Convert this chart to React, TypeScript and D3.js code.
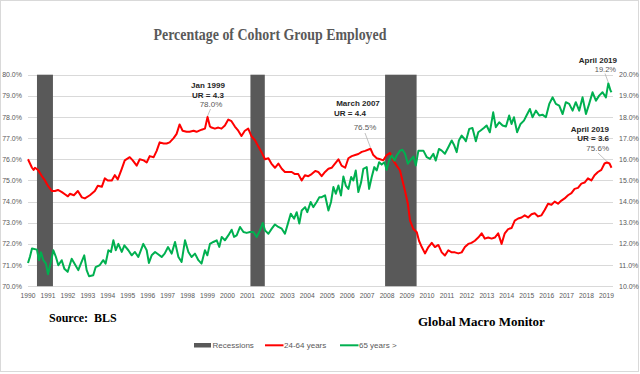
import React from "react";
import * as d3 from "d3";

const W = 640;
const H = 374;

// x axis: one label per year
const yearTicks = d3.range(1990, 2020);
const leftTicks = d3.range(70, 81, 1);
const rightTicks = d3.range(10, 21, 1);

// NBER recessions (decimal years)
const recessions: [number, number][] = [
  [1990.45, 1991.25],
  [2001.15, 2001.87],
  [2007.9, 2009.48],
];

// employment-population ratio, 24-64 years (left axis)
const employed2564: [number, number][] = [
  [1990.0, 76.0], [1990.1, 75.8], [1990.2, 75.6], [1990.28, 75.5], [1990.35, 75.6],
  [1990.5, 75.5], [1990.7, 75.2], [1990.85, 75.0], [1991.0, 74.75], [1991.2, 74.5],
  [1991.35, 74.5], [1991.5, 74.55], [1991.7, 74.45], [1991.85, 74.35], [1992.0, 74.25],
  [1992.1, 74.37], [1992.3, 74.3], [1992.5, 74.5], [1992.7, 74.2], [1992.85, 74.15],
  [1993.1, 74.3], [1993.35, 74.5], [1993.5, 74.75], [1993.7, 74.7], [1993.85, 75.1],
  [1994.0, 75.0], [1994.2, 75.0], [1994.35, 75.25], [1994.5, 75.05], [1994.7, 75.55],
  [1994.85, 75.95], [1995.1, 76.1], [1995.25, 75.95], [1995.45, 75.7], [1995.6, 76.0],
  [1995.8, 75.95], [1995.95, 75.85], [1996.1, 76.15], [1996.3, 76.1], [1996.45, 76.4],
  [1996.6, 76.8], [1996.8, 76.75], [1996.95, 76.75], [1997.1, 76.8], [1997.3, 77.0],
  [1997.45, 77.2], [1997.6, 77.65], [1997.75, 77.35], [1997.95, 77.3], [1998.1, 77.3],
  [1998.3, 77.35], [1998.45, 77.3], [1998.7, 77.4], [1998.87, 77.45], [1999.0, 78.0],
  [1999.12, 77.55], [1999.2, 77.5], [1999.37, 77.45], [1999.54, 77.5], [1999.7, 77.45],
  [1999.87, 77.6], [2000.04, 77.88], [2000.2, 77.8], [2000.37, 77.55], [2000.54, 77.35],
  [2000.7, 77.1], [2000.87, 77.35], [2001.04, 77.45], [2001.2, 77.1], [2001.38, 76.9],
  [2001.55, 76.6], [2001.7, 76.35], [2001.88, 76.0], [2002.05, 76.05], [2002.2, 75.8],
  [2002.38, 75.6], [2002.55, 75.8], [2002.72, 75.55], [2002.88, 75.4], [2003.05, 75.4],
  [2003.22, 75.4], [2003.38, 75.3], [2003.55, 75.3], [2003.72, 75.0], [2003.88, 75.25],
  [2004.05, 75.2], [2004.22, 75.3], [2004.4, 75.45], [2004.55, 75.4], [2004.72, 75.2],
  [2004.89, 75.4], [2005.06, 75.55], [2005.22, 75.6], [2005.39, 75.8], [2005.56, 76.0],
  [2005.72, 75.7], [2005.9, 75.6], [2006.06, 76.05], [2006.23, 76.15], [2006.4, 76.2],
  [2006.56, 76.25], [2006.73, 76.35], [2006.9, 76.4], [2007.17, 76.5], [2007.31, 76.2],
  [2007.48, 76.05], [2007.65, 76.0], [2007.81, 75.95], [2007.98, 76.2], [2008.15, 76.3],
  [2008.31, 75.95], [2008.48, 75.7], [2008.65, 75.47], [2008.77, 75.0], [2008.9, 74.5],
  [2009.04, 73.9], [2009.15, 73.1], [2009.32, 72.7], [2009.49, 72.55], [2009.6, 72.15],
  [2009.74, 71.85], [2009.9, 71.55], [2010.07, 71.85], [2010.24, 72.05], [2010.4, 71.85],
  [2010.57, 71.95], [2010.74, 71.6], [2010.9, 71.45], [2011.07, 71.7], [2011.24, 71.6],
  [2011.4, 71.6], [2011.57, 71.55], [2011.74, 71.6], [2011.9, 71.85], [2012.07, 72.0],
  [2012.23, 72.05], [2012.4, 72.15], [2012.57, 72.3], [2012.74, 72.5], [2012.9, 72.25],
  [2013.07, 72.3], [2013.24, 72.25], [2013.4, 72.3], [2013.57, 72.5], [2013.74, 72.0],
  [2013.9, 72.5], [2014.07, 72.7], [2014.24, 72.75], [2014.4, 73.1], [2014.57, 73.2],
  [2014.74, 73.25], [2014.9, 73.35], [2015.07, 73.25], [2015.24, 73.4], [2015.4, 73.45],
  [2015.57, 73.3], [2015.74, 73.35], [2015.9, 73.6], [2016.07, 73.9], [2016.24, 73.85],
  [2016.4, 74.0], [2016.57, 73.9], [2016.74, 74.05], [2016.9, 74.15], [2017.07, 74.3],
  [2017.24, 74.4], [2017.4, 74.6], [2017.57, 74.65], [2017.74, 74.85], [2017.9, 74.9],
  [2018.07, 75.1], [2018.24, 75.0], [2018.4, 75.25], [2018.57, 75.4], [2018.74, 75.5],
  [2018.9, 75.8], [2019.02, 75.85], [2019.15, 75.8], [2019.25, 75.6],
];

// employment-population ratio, 65 years and over (right axis)
const employed65: [number, number][] = [
  [1990.0, 11.1], [1990.1, 11.4], [1990.2, 11.78], [1990.45, 11.73], [1990.55, 11.23],
  [1990.65, 11.6], [1990.77, 11.23], [1990.9, 11.07], [1991.0, 10.57], [1991.15, 11.15],
  [1991.27, 11.7], [1991.4, 11.38], [1991.52, 10.99], [1991.69, 11.23], [1991.82, 10.83],
  [1991.99, 10.68], [1992.19, 11.3], [1992.35, 11.04], [1992.52, 10.76], [1992.65, 11.07],
  [1992.82, 11.46], [1992.94, 10.76], [1993.06, 10.47], [1993.27, 10.52], [1993.39, 10.9],
  [1993.6, 11.0], [1993.77, 11.23], [1993.89, 11.07], [1994.03, 11.7], [1994.16, 11.62],
  [1994.28, 12.17], [1994.4, 11.7], [1994.53, 12.0], [1994.7, 11.62], [1994.83, 11.93],
  [1995.03, 11.7], [1995.2, 11.46], [1995.36, 11.62], [1995.53, 11.38], [1995.78, 12.0],
  [1995.95, 11.7], [1996.06, 11.1], [1996.2, 11.46], [1996.37, 11.62], [1996.54, 11.5],
  [1996.7, 11.38], [1996.85, 11.54], [1997.02, 11.85], [1997.2, 11.54], [1997.37, 12.09],
  [1997.54, 11.38], [1997.7, 11.15], [1997.87, 12.17], [1998.04, 11.62], [1998.2, 11.38],
  [1998.37, 11.54], [1998.54, 11.23], [1998.7, 11.07], [1998.87, 11.7], [1998.99, 11.46],
  [1999.12, 12.0], [1999.29, 12.09], [1999.46, 12.17], [1999.59, 11.86], [1999.71, 12.33],
  [1999.87, 12.17], [2000.04, 12.4], [2000.21, 12.67], [2000.33, 12.33], [2000.46, 12.4],
  [2000.63, 12.8], [2000.8, 12.56], [2000.96, 12.52], [2001.13, 12.56], [2001.3, 12.56],
  [2001.46, 12.33], [2001.63, 12.64], [2001.77, 12.99], [2001.88, 12.64], [2002.05, 12.48],
  [2002.22, 12.72], [2002.38, 12.92], [2002.55, 12.8], [2002.72, 12.72], [2002.88, 12.48],
  [2003.05, 13.03], [2003.17, 13.43], [2003.34, 13.19], [2003.47, 13.5], [2003.6, 12.96],
  [2003.72, 13.58], [2003.89, 13.74], [2004.0, 13.5], [2004.17, 13.98], [2004.3, 13.74],
  [2004.47, 13.98], [2004.6, 14.2], [2004.72, 14.21], [2004.89, 14.3], [2005.06, 13.58],
  [2005.19, 13.98], [2005.31, 14.69], [2005.43, 14.37], [2005.56, 14.76], [2005.69, 14.29],
  [2005.81, 15.19], [2005.93, 14.76], [2006.06, 14.6], [2006.2, 15.16], [2006.31, 15.0],
  [2006.43, 15.47], [2006.56, 14.45], [2006.7, 14.92], [2006.81, 15.55], [2006.98, 15.63],
  [2007.1, 14.6], [2007.23, 15.16], [2007.36, 15.63], [2007.48, 15.47], [2007.6, 15.86],
  [2007.73, 15.75], [2007.87, 15.86], [2007.98, 15.5], [2008.1, 15.94], [2008.23, 16.18],
  [2008.37, 15.94], [2008.48, 16.18], [2008.65, 16.41], [2008.77, 16.45], [2008.9, 16.26],
  [2009.04, 15.79], [2009.15, 15.94], [2009.32, 16.13], [2009.44, 15.71], [2009.57, 16.41],
  [2009.7, 16.41], [2009.82, 16.41], [2009.99, 16.1], [2010.15, 16.02], [2010.32, 16.26],
  [2010.44, 15.94], [2010.6, 16.49], [2010.74, 16.41], [2010.9, 16.26], [2011.07, 16.57],
  [2011.24, 16.89], [2011.37, 16.65], [2011.49, 16.34], [2011.6, 16.89], [2011.74, 17.12],
  [2011.88, 16.96], [2011.95, 16.85], [2012.12, 17.44], [2012.28, 17.48], [2012.45, 16.85],
  [2012.57, 17.28], [2012.69, 17.36], [2012.85, 17.48], [2012.99, 17.6], [2013.15, 17.28],
  [2013.32, 18.22], [2013.45, 17.52], [2013.62, 17.75], [2013.79, 17.6], [2013.96, 17.55],
  [2014.12, 18.07], [2014.24, 17.67], [2014.36, 17.99], [2014.52, 17.28], [2014.69, 17.67],
  [2014.86, 17.83], [2014.99, 18.07], [2015.16, 18.38], [2015.29, 17.99], [2015.46, 18.3],
  [2015.63, 18.07], [2015.79, 18.11], [2015.96, 17.99], [2016.13, 18.62], [2016.3, 18.93],
  [2016.46, 18.62], [2016.63, 18.54], [2016.8, 18.14], [2016.96, 18.7], [2017.13, 18.62],
  [2017.3, 18.3], [2017.46, 18.7], [2017.63, 18.3], [2017.8, 18.93], [2017.97, 18.14],
  [2018.13, 18.62], [2018.3, 19.17], [2018.47, 18.77], [2018.63, 19.01], [2018.8, 19.17],
  [2018.97, 18.93], [2019.09, 19.59], [2019.2, 19.25], [2019.25, 19.17],
];

const RED = "#ff0000";
const GREEN = "#00b050";
const GREY = "#595959";
const GRID = "#d9d9d9";

export default function App() {
  const plotTop = 74.7;
  const plotBottom = 286.2;
  const x = d3.scaleLinear().domain([1990, 2019.3]).range([28, 612.5]);
  const yL = d3.scaleLinear().domain([70, 80]).range([plotBottom, plotTop]);
  const yR = d3.scaleLinear().domain([10, 20]).range([plotBottom, plotTop]);

  const lineL = d3
    .line<[number, number]>()
    .x((d) => x(d[0]))
    .y((d) => yL(d[1]));
  const lineR = d3
    .line<[number, number]>()
    .x((d) => x(d[0]))
    .y((d) => yR(d[1]));

  const sans = "'Liberation Sans', Arial, sans-serif";
  const serif = "'Liberation Serif', 'Times New Roman', serif";

  return (
    <svg
      width={W}
      height={H}
      style={{ position: "absolute", left: 0, top: 0, background: "white" }}
    >
      <rect x={0.5} y={0.5} width={638} height={371} fill="white" stroke={GRID} />

      <text
        x={270}
        y={40}
        textAnchor="middle"
        fontFamily={serif}
        fontWeight="bold"
        fontSize={17}
        fill={GREY}
        textLength={233}
        lengthAdjust="spacingAndGlyphs"
      >
        Percentage of Cohort Group Employed
      </text>

      {/* gridlines */}
      <g>
        {leftTicks.map((t) => (
          <line
            key={t}
            x1={28}
            x2={613}
            y1={Math.round(yL(t)) + 0.5}
            y2={Math.round(yL(t)) + 0.5}
            stroke={GRID}
            strokeWidth={1}
          />
        ))}
      </g>

      {/* recession bars */}
      <g>
        {recessions.map(([a, b]) => (
          <rect
            key={a}
            x={x(a)}
            y={plotTop}
            width={x(b) - x(a)}
            height={plotBottom - plotTop}
            fill={GREY}
          />
        ))}
      </g>

      <path d={lineL(employed2564) ?? ""} fill="none" stroke={RED} strokeWidth={2} strokeLinejoin="round" />
      <path d={lineR(employed65) ?? ""} fill="none" stroke={GREEN} strokeWidth={2} strokeLinejoin="round" />

      {/* left axis labels */}
      <g fontFamily={sans} fontSize={7} fill={GREY}>
        {leftTicks.map((t) => (
          <text key={t} x={22} y={yL(t) + 2.5} textAnchor="end">
            {d3.format(".1f")(t) + "%"}
          </text>
        ))}
      </g>
      {/* right axis labels */}
      <g fontFamily={sans} fontSize={7} fill={GREY}>
        {rightTicks.map((t) => (
          <text key={t} x={619} y={yR(t) + 2.5} textAnchor="start">
            {d3.format(".1f")(t) + "%"}
          </text>
        ))}
      </g>
      {/* year labels */}
      <g fontFamily={sans} fontSize={6.7} fill={GREY}>
        {yearTicks.map((t) => (
          <text key={t} x={x(t)} y={297.5} textAnchor="middle">
            {t}
          </text>
        ))}
      </g>

      {/* annotations */}
      <g fontFamily={sans} fontSize={8}>
        <text x={208} y={88} textAnchor="middle" fontWeight="bold" fill="#262626">Jan 1999</text>
        <text x={208} y={98} textAnchor="middle" fontWeight="bold" fill="#262626">UR = 4.3</text>
        <text x={211} y={107} textAnchor="middle" fill={GREY}>78.0%</text>
        <line x1={210.5} y1={109} x2={x(1999.0)} y2={yL(78.0) - 1} stroke="#a6a6a6" strokeWidth={0.7} />

        <text x={358} y={106.3} textAnchor="middle" fontWeight="bold" fill="#262626">March 2007</text>
        <text x={350} y={116.3} textAnchor="middle" fontWeight="bold" fill="#262626">UR = 4.4</text>
        <text x={365} y={130.3} textAnchor="middle" fill={GREY}>76.5%</text>
        <line x1={365} y1={133} x2={x(2007.17)} y2={yL(76.5) - 1} stroke="#a6a6a6" strokeWidth={0.7} />

        <text x={617} y={63} textAnchor="end" fontWeight="bold" fill="#262626">April 2019</text>
        <text x={616} y={71.8} textAnchor="end" fontSize={7.5} fill={GREY}>19.2%</text>
        <line x1={605} y1={73.5} x2={x(2019.09)} y2={yR(19.59) - 1} stroke="#a6a6a6" strokeWidth={0.7} />

        <text x={609} y={132} textAnchor="end" fontWeight="bold" fill="#262626">April 2019</text>
        <text x={609} y={141.3} textAnchor="end" fontWeight="bold" fill="#262626">UR = 3.6</text>
        <text x={609} y={150.7} textAnchor="end" fill={GREY}>75.6%</text>
        <line x1={598} y1={153} x2={x(2019.02)} y2={yL(75.85) - 1} stroke="#a6a6a6" strokeWidth={0.7} />
      </g>

      {/* sources */}
      <text x={49} y={321.7} fontFamily={serif} fontWeight="bold" fontSize={12} fill="black" xmlSpace="preserve">
        Source:  BLS
      </text>
      <text x={418} y={326} fontFamily={serif} fontWeight="bold" fontSize={13} fill="black">
        Global Macro Monitor
      </text>

      {/* legend */}
      <g fontFamily={sans} fontSize={8} fill={GREY}>
        <rect x={194} y={343} width={17} height={4.5} fill={GREY} />
        <text x={212.5} y={348}>Recessions</text>
        <line x1={265} x2={283.5} y1={345.3} y2={345.3} stroke={RED} strokeWidth={2} />
        <text x={284} y={348}>24-64 years</text>
        <line x1={340} x2={358.5} y1={345.3} y2={345.3} stroke={GREEN} strokeWidth={2} />
        <text x={359} y={348}>65 years &gt;</text>
      </g>
    </svg>
  );
}
